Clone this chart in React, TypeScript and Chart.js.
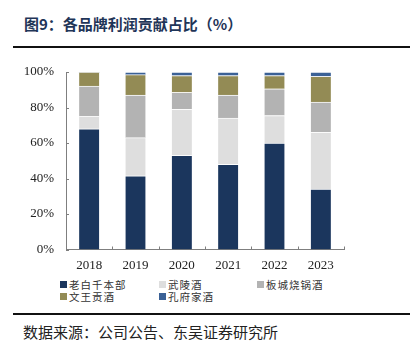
import React, { useEffect, useRef } from "react";
import { Chart, registerables } from "chart.js";

Chart.register(...registerables);

const years = ["2018", "2019", "2020", "2021", "2022", "2023"];
const laobaigan = [68, 41.5, 53, 48, 60, 34];
const wuling = [7, 21.5, 26, 26, 15.5, 32];
const bancheng = [17, 24, 9.5, 13, 15, 17];
const wenwang = [8, 11.5, 9.5, 11, 7.5, 14.5];
const kongfu = [0, 1.5, 2, 2, 2, 2.5];
const yTicks = [0, 20, 40, 60, 80, 100];

const seriesNames = ["老白千本部", "武陵酒", "板城烧锅酒", "文王贡酒", "孔府家酒"];
const seriesColors = ["#1b365d", "#dedede", "#b3b3b3", "#938b55", "#3b6196"];

const axisTicks = {
  id: "axisTicks",
  afterDraw(chart: any) {
    const ctx = chart.ctx;
    const x = chart.scales.x;
    const y = chart.scales.y;
    ctx.save();
    ctx.strokeStyle = "#7f7f7f";
    ctx.lineWidth = 1;
    const n = years.length;
    const step = (x.right - x.left) / n;
    for (let i = 0; i <= n; i++) {
      const px = Math.round(x.left + step * i) + 0.5;
      ctx.beginPath();
      ctx.moveTo(px, y.bottom);
      ctx.lineTo(px, y.bottom - 3);
      ctx.stroke();
    }
    yTicks.forEach((v) => {
      const py = Math.round(y.getPixelForValue(v)) + 0.5;
      ctx.beginPath();
      ctx.moveTo(x.left, py);
      ctx.lineTo(x.left + 3, py);
      ctx.stroke();
    });
    ctx.restore();
  },
};

export default function App() {
  const ref = useRef<HTMLCanvasElement>(null);
  useEffect(() => {
    const data = [laobaigan, wuling, bancheng, wenwang, kongfu];
    const chart = new Chart(ref.current!, {
      type: "bar",
      data: {
        labels: years,
        datasets: data.map((d, i) => ({
          label: seriesNames[i],
          data: d,
          backgroundColor: seriesColors[i],
          borderColor: "rgba(255,255,255,0.7)",
          borderWidth: { top: 1 },
          borderSkipped: false,
          barThickness: 20,
        })),
      },
      options: {
        animation: false,
        responsive: false,
        maintainAspectRatio: false,
        layout: { padding: { top: 72, right: 76, left: 0, bottom: 0 } },
        plugins: { legend: { display: false }, tooltip: { enabled: false }, title: { display: false } },
        scales: {
          x: {
            stacked: true,
            grid: { display: false, drawTicks: false },
            border: { display: true, color: "#7f7f7f", width: 1 },
            ticks: {
              padding: 8,
              color: "#222",
              font: { family: "'Liberation Serif', 'Times New Roman', serif", size: 13 },
            },
            afterFit: (s: any) => {
              s.height = 25.5;
            },
          },
          y: {
            stacked: true,
            min: 0,
            max: 100,
            grid: { display: false, drawTicks: false },
            border: { display: true, color: "#7f7f7f", width: 1 },
            ticks: {
              stepSize: 20,
              padding: 12,
              color: "#222",
              font: { family: "'Liberation Serif', 'Times New Roman', serif", size: 13 },
              callback: (v: any) => v + "%",
            },
            afterFit: (s: any) => {
              s.width = 66;
            },
          },
        },
      },
      plugins: [axisTicks],
    });
    return () => chart.destroy();
  }, []);

  const cjk = "'Noto Sans CJK SC', sans-serif";
  const legendPos = [
    { x: 60, y: 284.5 },
    { x: 159, y: 284.5 },
    { x: 257, y: 284.5 },
    { x: 60, y: 296.5 },
    { x: 159, y: 296.5 },
  ];

  return (
    <div style={{ position: "fixed", left: 0, top: 0, width: 420, height: 351, background: "#fff", overflow: "hidden" }}>
      <div
        style={{
          position: "absolute",
          left: 24,
          top: 14,
          fontFamily: cjk,
          fontWeight: 700,
          fontSize: 15,
          lineHeight: "19px",
          color: "#1f3558",
          whiteSpace: "nowrap",
        }}
      >
        图9：各品牌利润贡献占比（%）
      </div>
      <div style={{ position: "absolute", left: 13, top: 46, width: 397, height: 2, background: "#111" }} />
      <canvas ref={ref} width={420} height={275} style={{ position: "absolute", left: 0, top: 0, width: 420, height: 275 }} />
      {seriesNames.map((name, i) => (
        <div
          key={name}
          style={{
            position: "absolute",
            left: legendPos[i].x,
            top: legendPos[i].y - 6,
            height: 12,
            lineHeight: "12px",
            display: "flex",
            alignItems: "center",
            fontFamily: cjk,
            fontSize: 10.5,
            letterSpacing: 1,
            color: "#333",
            whiteSpace: "nowrap",
          }}
        >
          <span style={{ display: "inline-block", width: 7, height: 7, background: seriesColors[i], marginRight: 2 }} />
          {name}
        </div>
      ))}
      <div style={{ position: "absolute", left: 13, top: 313, width: 397, height: 2, background: "#111" }} />
      <div
        style={{
          position: "absolute",
          left: 23,
          top: 322,
          fontFamily: cjk,
          fontSize: 15,
          lineHeight: "19px",
          color: "#222",
          whiteSpace: "nowrap",
        }}
      >
        数据来源：公司公告、东吴证券研究所
      </div>
    </div>
  );
}
